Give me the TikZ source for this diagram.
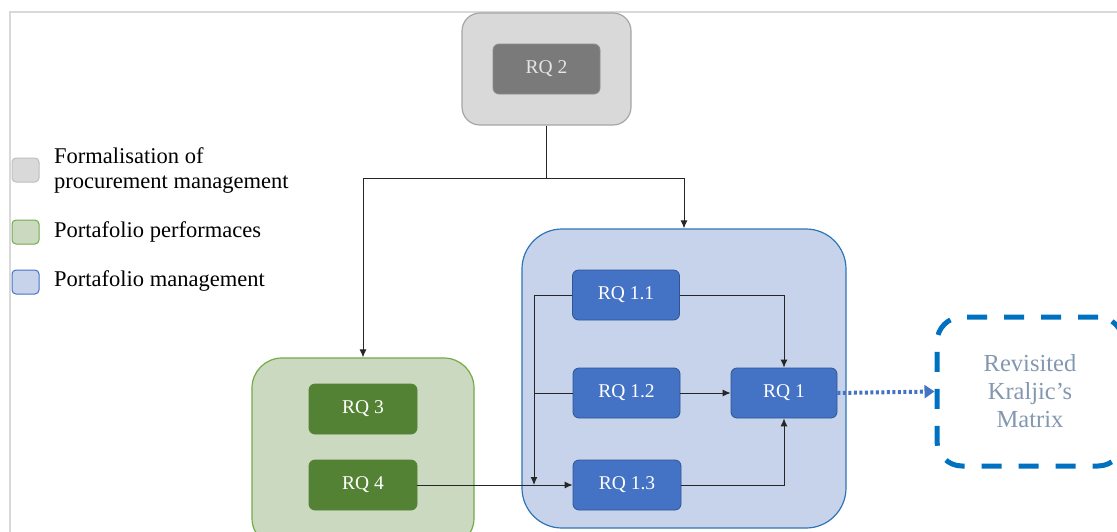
\documentclass[tikz,border=0pt]{standalone}
\usepackage{fontspec}
\setmainfont{Liberation Serif}
\usetikzlibrary{arrows.meta}
\definecolor{framecol}{HTML}{D9D9D9}
\definecolor{grayfill}{HTML}{D9D9D9}
\definecolor{grayline}{HTML}{A6A6A6}
\definecolor{darkgray}{HTML}{7A7A7A}
\definecolor{greenfill}{HTML}{CAD9BF}
\definecolor{greenline}{HTML}{70AD47}
\definecolor{darkgreen}{HTML}{548235}
\definecolor{bluefill}{HTML}{C6D3EB}
\definecolor{blueline}{HTML}{2E75B6}
\definecolor{midblue}{HTML}{4472C4}
\definecolor{midblueline}{HTML}{2F5597}
\definecolor{dashblue}{HTML}{0070C0}
\definecolor{kraltext}{HTML}{8497B0}
\tikzset{
  outerbox/.style={rectangle, rounded corners=#1, line width=1.2pt},
  rqbox/.style={rectangle, rounded corners=6pt, minimum width=107pt, minimum height=50pt,
    text=white, font=\fontsize{19.5}{22}\selectfont, line width=0.8pt, inner sep=0pt},
  legbox/.style={rectangle, rounded corners=4pt, minimum width=27pt, minimum height=24pt, line width=1pt, inner sep=0pt},
  legtext/.style={anchor=west, align=left, font=\fontsize{22.5}{25}\selectfont, inner sep=0pt},
  conn/.style={draw=black!85, line width=1pt},
  arr/.style={conn, -{Latex[length=8pt,width=7pt]}},
}
\begin{document}
\begin{tikzpicture}[x=1pt,y=-1pt]
\useasboundingbox (0,0) rectangle (1117,531);
\clip (0,0) rectangle (1117,531);
% frame
\draw[framecol, line width=2pt] (10,560) -- (10,12) -- (1140,12);
% legend
\node[legbox, fill=grayfill, draw=black!25] (lg1) at (25.5,170) {};
\node[legtext] (lt1) at (54,170.5) {Formalisation of\\procurement management};
\node[legbox, fill=greenfill, draw=greenline] (lg2) at (25.5,232) {};
\node[legtext] (lt2) at (54,232) {Portafolio performaces};
\node[legbox, fill=bluefill, draw=midblue] (lg3) at (25.5,282) {};
\node[legtext] (lt3) at (54,281) {Portafolio management};
% outer boxes
\node[outerbox=18pt, fill=grayfill, draw=grayline, minimum width=169pt, minimum height=112pt] (gbox) at (546.5,69) {};
\node[outerbox=30pt, fill=greenfill, draw=greenline, minimum width=222pt, minimum height=190pt] (grbox) at (363,453) {};
\node[outerbox=40pt, fill=bluefill, draw=blueline, minimum width=324pt, minimum height=299pt] (bbox) at (684,378.5) {};
% inner boxes
\node[rqbox, fill=darkgray, draw=black!45, text=black!10] (rq2) at (546.5,69) {RQ 2};
\node[rqbox, fill=darkgreen, draw=darkgreen, minimum width=108pt] (rq3) at (363,409) {RQ 3};
\node[rqbox, fill=darkgreen, draw=darkgreen, minimum width=108pt] (rq4) at (363,485) {RQ 4};
\node[rqbox, fill=midblue, draw=midblueline] (rq11) at (626,295) {RQ 1.1};
\node[rqbox, fill=midblue, draw=midblueline] (rq12) at (626.5,393) {RQ 1.2};
\node[rqbox, fill=midblue, draw=midblueline, minimum width=108pt] (rq13) at (627,485) {RQ 1.3};
\node[rqbox, fill=midblue, draw=midblueline, minimum width=106pt] (rq1) at (784,393) {RQ 1};
% Kraljic box
\node[rectangle, rounded corners=25pt, draw=dashblue, line width=5pt, dash pattern=on 20pt off 17pt,
  minimum width=186pt, minimum height=149pt, text=kraltext, align=center,
  font=\fontsize{24.5}{28}\selectfont] (kbox) at (1030,391.5) {Revisited\\Kraljic’s\\Matrix};
% connectors
\coordinate (j1) at (546.5,178);
\draw[conn] (gbox.south) -- (j1);
\draw[arr] (j1) -| (grbox.north);
\draw[arr] (j1) -| (bbox.north);
\draw[arr] (rq4.east) -- (rq13.west);
\coordinate (b1) at (534,295);
\coordinate (b2) at (534,393);
\coordinate (b3) at (534,485);
\draw[conn] (rq11.west) -- (b1);
\draw[conn] (rq12.west) -- (b2);
\draw[arr] (b1) -- (b3);
\draw[arr] (rq11.east) -| (rq1.north);
\draw[arr] (rq12.east) -- (rq1.west);
\draw[arr] (rq13.east) -| (rq1.south);
\draw[midblue, line width=4pt, dash pattern=on 3pt off 2.5pt, -{Triangle[length=10pt,width=13pt]}] (rq1.east) -- (kbox.west);
\end{tikzpicture}
\end{document}
